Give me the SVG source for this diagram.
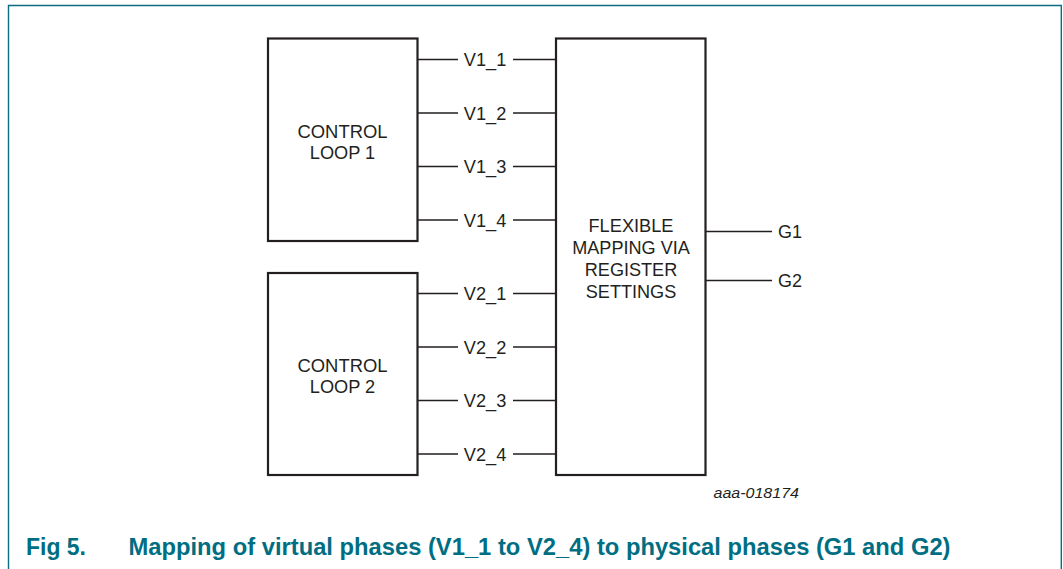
<svg xmlns="http://www.w3.org/2000/svg" width="1063" height="569" viewBox="0 0 1063 569">
<style>
.box{fill:#fff;stroke:#231f20;stroke-width:2.2}
.ln{stroke:#231f20;stroke-width:1.3;fill:none}
.t{font-family:"Liberation Sans",Arial,sans-serif;font-size:17.5px;fill:#231f20}
.c{text-anchor:middle}
.cap{font-family:"Liberation Sans",Arial,sans-serif;font-weight:bold;font-size:24px;fill:#006e82}
.frame{fill:none;stroke:#0b6e80;stroke-width:1.4}
</style>
<rect width="1063" height="569" fill="#fff"/>
<path class="frame" d="M8.5,569 V5.5 H1061.3 V569"/>
<g id="loop1">
<rect class="box" x="268" y="38.5" width="149.5" height="202.5"/>
<text class="t c" x="342.5" y="138" textLength="90" lengthAdjust="spacingAndGlyphs">CONTROL</text>
<text class="t c" x="342.5" y="159" textLength="65.4" lengthAdjust="spacingAndGlyphs">LOOP 1</text>
</g>
<g id="loop2">
<rect class="box" x="268" y="273" width="149.5" height="202"/>
<text class="t c" x="342.5" y="372" textLength="90" lengthAdjust="spacingAndGlyphs">CONTROL</text>
<text class="t c" x="342.5" y="393" textLength="65.4" lengthAdjust="spacingAndGlyphs">LOOP 2</text>
</g>
<g id="mapping">
<rect class="box" x="556" y="38.5" width="149.5" height="436.5"/>
<text class="t c" x="631" y="232" textLength="85" lengthAdjust="spacingAndGlyphs">FLEXIBLE</text>
<text class="t c" x="631" y="254" textLength="117.6" lengthAdjust="spacingAndGlyphs">MAPPING VIA</text>
<text class="t c" x="631" y="276" textLength="92.5" lengthAdjust="spacingAndGlyphs">REGISTER</text>
<text class="t c" x="631" y="298" textLength="90.5" lengthAdjust="spacingAndGlyphs">SETTINGS</text>
</g>
<g id="connectors">
<path class="ln" d="M418,59.5H458M513,59.5H556M418,113H458M513,113H556M418,166.5H458M513,166.5H556M418,220H458M513,220H556M418,293.5H458M513,293.5H556M418,347H458M513,347H556M418,400.5H458M513,400.5H556M418,454H458M513,454H556M706,231.5H772M706,280.5H772"/>
<text class="t c" x="485" y="66" textLength="42.5" lengthAdjust="spacingAndGlyphs">V1_1</text>
<text class="t c" x="485" y="119.5" textLength="42.5" lengthAdjust="spacingAndGlyphs">V1_2</text>
<text class="t c" x="485" y="173" textLength="42.5" lengthAdjust="spacingAndGlyphs">V1_3</text>
<text class="t c" x="485" y="226.5" textLength="42.5" lengthAdjust="spacingAndGlyphs">V1_4</text>
<text class="t c" x="485" y="300" textLength="42.5" lengthAdjust="spacingAndGlyphs">V2_1</text>
<text class="t c" x="485" y="353.5" textLength="42.5" lengthAdjust="spacingAndGlyphs">V2_2</text>
<text class="t c" x="485" y="407" textLength="42.5" lengthAdjust="spacingAndGlyphs">V2_3</text>
<text class="t c" x="485" y="460.5" textLength="42.5" lengthAdjust="spacingAndGlyphs">V2_4</text>
<text class="t" x="778" y="238" textLength="24" lengthAdjust="spacingAndGlyphs">G1</text>
<text class="t" x="778" y="287" textLength="24" lengthAdjust="spacingAndGlyphs">G2</text>
</g>
<text class="t" x="713.5" y="497.5" style="font-size:15px;font-style:italic" textLength="85.5" lengthAdjust="spacingAndGlyphs">aaa-018174</text>
<text class="cap" x="26" y="555" textLength="60" lengthAdjust="spacingAndGlyphs">Fig 5.</text>
<text class="cap" x="128.5" y="555" textLength="822" lengthAdjust="spacingAndGlyphs">Mapping of virtual phases (V1_1 to V2_4) to physical phases (G1 and G2)</text>
</svg>
